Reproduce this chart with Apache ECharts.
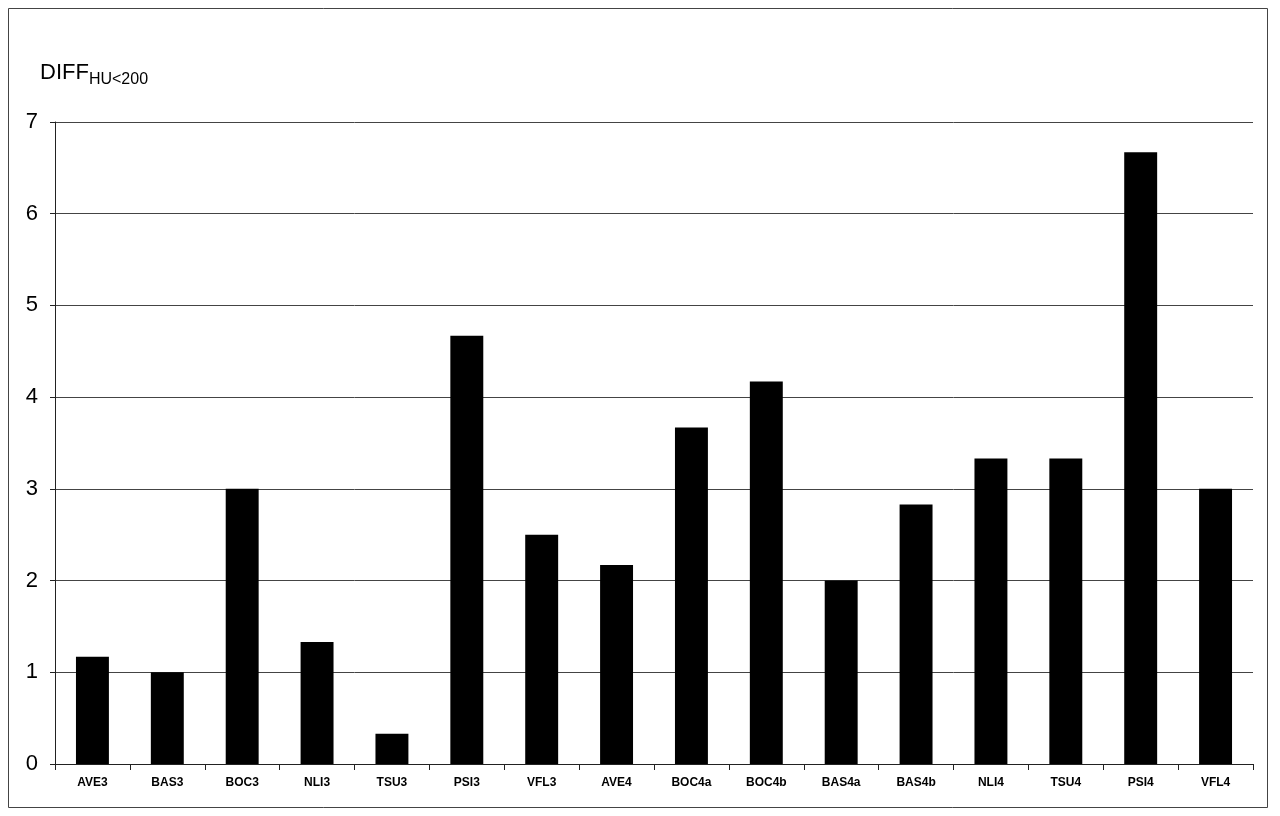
<!DOCTYPE html>
<html><head><meta charset="utf-8">
<script src="https://cdn.jsdelivr.net/npm/echarts@6/dist/echarts.min.js"></script>
<style>html,body{margin:0;padding:0;background:#fff}#c{width:1280px;height:816px}</style>
</head><body><div id="c"></div>
<script>
var categories = ['AVE3','BAS3','BOC3','NLI3','TSU3','PSI3','VFL3','AVE4','BOC4a','BOC4b','BAS4a','BAS4b','NLI4','TSU4','PSI4','VFL4'];
var values = [1.17, 1.0, 3.0, 1.33, 0.33, 4.67, 2.5, 2.17, 3.67, 4.17, 2.0, 2.83, 3.33, 3.33, 6.67, 3.0];
var yTicks = [0,1,2,3,4,5,6,7];

var chart = echarts.init(document.getElementById('c'), null, {renderer:'canvas'});
chart.setOption({
  animation:false,
  backgroundColor:'#fff',
  graphic:[
    {type:'rect', shape:{x:8.5,y:8.5,width:1259,height:799}, style:{fill:'none',stroke:'#444',lineWidth:1}},
    {type:'text', left:40, top:62, style:{
      rich:{a:{fontFamily:'Liberation Sans, Arial',fontSize:22,fill:'#000'},
            b:{fontFamily:'Liberation Sans, Arial',fontSize:16,fill:'#000',verticalAlign:'bottom',padding:[14,0,0,0]}},
      text:'{a|DIFF}{b|HU<200}'
    }}
  ],
  grid:{left:55,right:27,top:122,bottom:52,containLabel:false},
  xAxis:{type:'category',data:categories,
    axisLine:{lineStyle:{color:'#222',width:1}},
    axisTick:{show:true,alignWithLabel:false,length:6,inside:false,lineStyle:{color:'#222'}},
    axisLabel:{fontFamily:'Liberation Sans Narrow, Liberation Sans, Arial',fontWeight:'bold',fontSize:12,color:'#000',margin:13,interval:0}
  },
  yAxis:{type:'value',min:0,max:7,interval:1,
    axisLine:{show:true,lineStyle:{color:'#222',width:1}},
    axisTick:{show:true,length:5,lineStyle:{color:'#222'}},
    axisLabel:{fontFamily:'Liberation Sans, Arial',fontSize:22,color:'#000',margin:17,
      formatter:function(v){return yTicks.indexOf(v)>=0?String(v):'';}},
    splitLine:{show:true,lineStyle:{color:'#444',width:1}}
  },
  series:[{type:'bar',data:values,barWidth:'44%',itemStyle:{color:'#000'}}]
});
</script></body></html>
